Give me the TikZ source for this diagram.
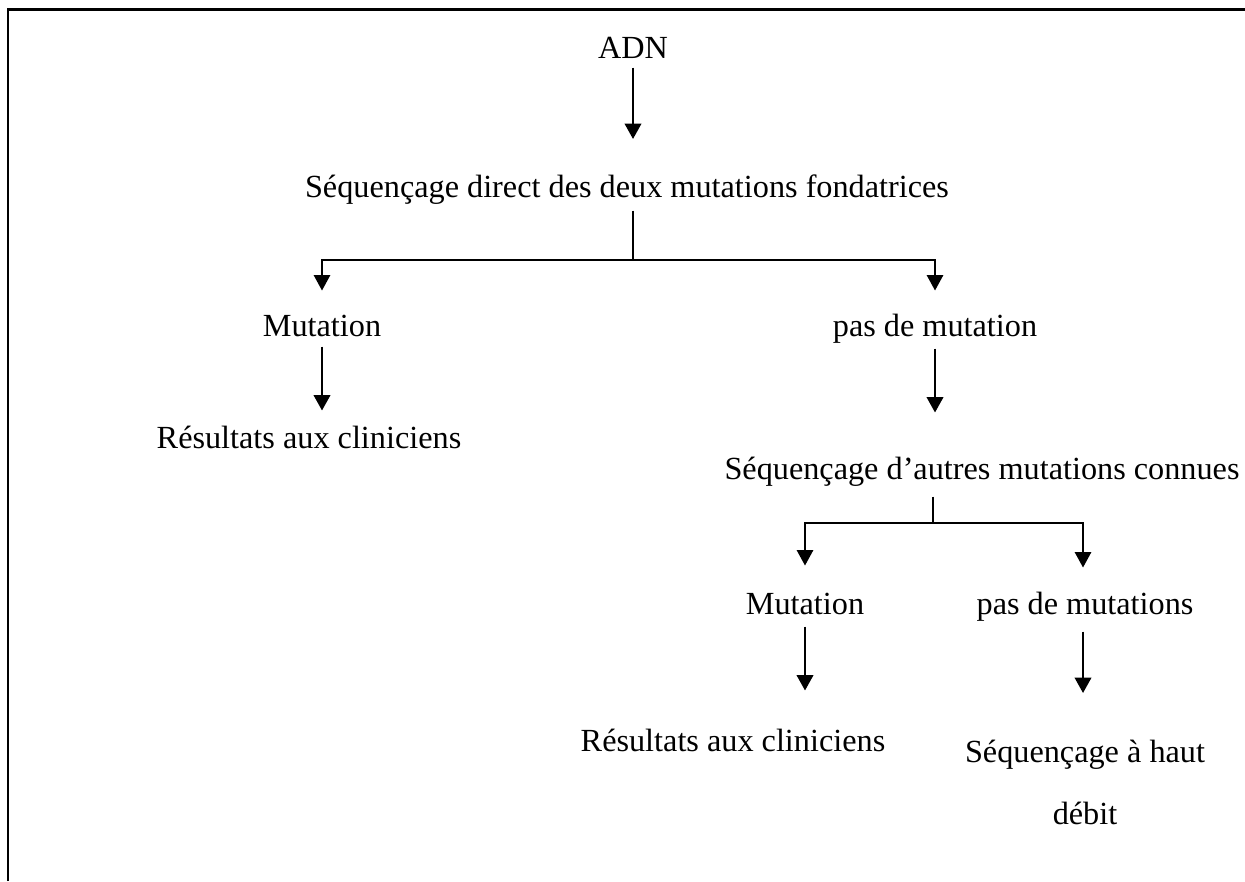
\documentclass[tikz,border=0pt]{standalone}
\usepackage{fontspec}
\setmainfont{Liberation Serif}
\usepackage{tikz}
\usetikzlibrary{arrows.meta,positioning}

\begin{document}
\begin{tikzpicture}[x=0.4pt,y=-0.4pt,
    lbl/.style={inner sep=0pt,text height=9pt,text depth=3pt,
      font=\fontsize{12.9}{24.8}\selectfont},
    arr/.style={line width=1pt,-{Triangle[width=6.6pt,length=6.2pt]}},
    branch/.style={line width=0.6pt}]
        \useasboundingbox (0,0) rectangle (1245,881);
        % Frame (open on the right and at the bottom)
        \draw[line width=0.9pt] (8,881) -- (8,9.5) -- (1245,9.5);
        % Labels, placed at their centres
        \node[lbl] (adn)  at (633,50.5)  {ADN};
        \node[lbl] (seq1) at (627,189.5) {Séquençage direct des deux mutations fondatrices};
        \node[lbl] (mut1) at (322,328.5) {Mutation};
        \node[lbl] (pas1) at (935,328.5) {pas de mutation};
        \node[lbl] (res1) at (309,440.5) {Résultats aux cliniciens};
        \node[lbl] (seq2) at (982,471.5) {Séquençage d’autres mutations connues};
        \node[lbl] (mut2) at (805,606.5) {Mutation};
        \node[lbl] (pas2) at (1085,606.5) {pas de mutations};
        \node[lbl] (res2) at (733,743.5) {Résultats aux cliniciens};
        \node[lbl,align=center] (seq3) at (1085,816.5) {Séquençage à haut\\débit};
        % Branch points
        \coordinate (br1) at (633,260);
        \coordinate (br2) at (933,523);
        % Connectors
        \draw[arr,shorten <=0.6pt,shorten >=14pt] (adn) -- (adn |- seq1.north);
        \draw[branch,shorten <=2.2pt] (seq1.south -| br1) -- (br1);
        \draw[arr,branch,shorten >=9pt] (br1) -| (mut1.north);
        \draw[arr,branch,shorten >=9pt] (br1) -| (pas1.north);
        \draw[arr,shorten <=1pt,shorten >=5.8pt] (mut1) -- (mut1 |- res1.north);
        \draw[arr,shorten <=1.8pt,shorten >=17.4pt] (pas1) -- (pas1 |- seq2.north);
        \draw[branch,shorten <=3.8pt] (seq2.south -| br2) -- (br2);
        \draw[arr,branch,shorten >=10.2pt] (br2) -| (mut2.north);
        \draw[arr,branch,shorten >=9.4pt] (br2) -| ([xshift=-0.8pt]pas2.north);
        \draw[arr,shorten <=1.8pt,shorten >=15pt] (mut2) -- (mut2 |- res2.north);
        \draw[arr,shorten <=3.8pt,shorten >=49.4pt] ([xshift=-0.8pt]pas2.south) -- ([xshift=-0.8pt]pas2.south |- seq3.center);
\end{tikzpicture}
\end{document}
